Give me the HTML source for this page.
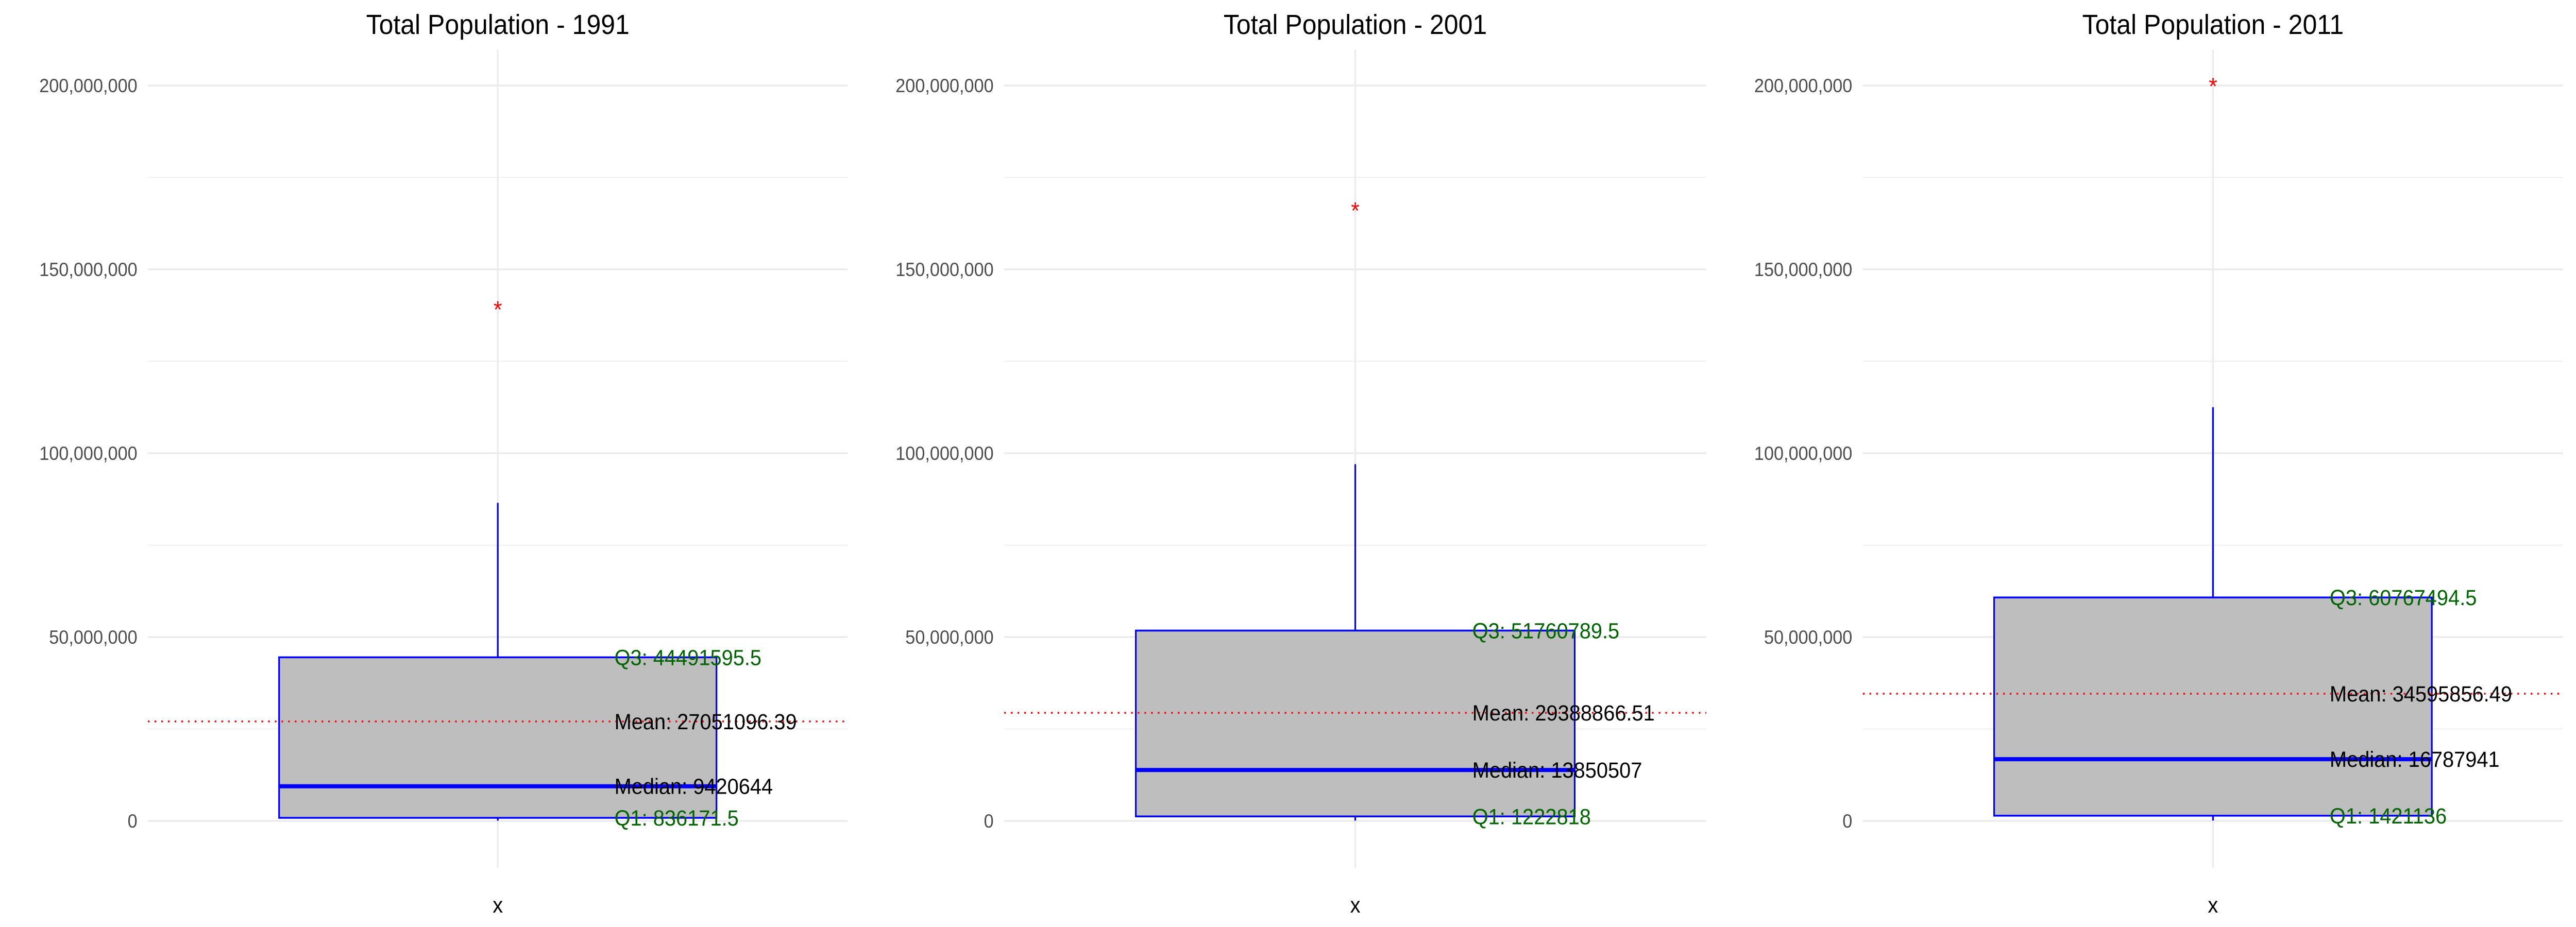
<!DOCTYPE html>
<html><head><meta charset="utf-8"><style>
html,body{margin:0;padding:0;background:#fff;overflow:hidden;width:100vw;height:100vh;}
svg{display:block;font-family:"Liberation Sans",Arial,sans-serif;width:100vw;height:100vh;}
</style></head>
<body>
<svg id="chart" viewBox="0 0 5400 1800" preserveAspectRatio="none" xmlns="http://www.w3.org/2000/svg"></svg>
<script>
const years = ["1991","2001","2011"];
const q1Values = [836171.5, 1222818, 1421136];
const medianValues = [9420644, 13850507, 16787941];
const q3Values = [44491595.5, 51760789.5, 60767494.5];
const meanValues = [27051096.39, 29388866.51, 34595856.49];
const whiskerLow = [60000, 80000, 100000];
const whiskerHigh = [86500000, 97000000, 112500000];
const outlierValues = [139100000, 166000000, 199800000];
const q1Labels = ["836171.5","1222818","1421136"];
const medianLabels = ["9420644","13850507","16787941"];
const q3Labels = ["44491595.5","51760789.5","60767494.5"];
const meanLabels = ["27051096.39","29388866.51","34595856.49"];
const yTicks = [0, 50000000, 100000000, 150000000, 200000000];
const yTickLabels = ["0","50,000,000","100,000,000","150,000,000","200,000,000"];
const yMinor = [25000000, 75000000, 125000000, 175000000];

const NS = "http://www.w3.org/2000/svg";
const svg = document.getElementById("chart");
function mk(tag, attrs, parent){const e=document.createElementNS(NS,tag);for(const k in attrs)e.setAttribute(k,attrs[k]);(parent||svg).appendChild(e);return e;}
const yScale = v => 1594 - v/50000000*357;
const plotTop = 96, plotBot = 1685;
const panelLeft = [310, 2105, 3905];
const panelRight = [1777, 3577, 5373];

years.forEach((yr,i)=>{
  const L = panelLeft[i], R = panelRight[i], cx = (L+R)/2;
  const xScale = u => cx + u*(R-L)/1.2;
  const g = mk("g",{});
  
  
  yMinor.forEach(v=>{const l=mk("line",{x1:L,x2:R,y1:yScale(v),y2:yScale(v),stroke:"#ebebeb","stroke-width":1.5},g);
    });
  yTicks.forEach((v,k)=>{
    const l=mk("line",{x1:L,x2:R,y1:yScale(v),y2:yScale(v),stroke:"#ebebeb","stroke-width":3.5},g);
    
    const t=mk("text",{x:L-22,y:yScale(v)+13,"text-anchor":"end","font-size":37,fill:"#4d4d4d"},g);
    t.textContent=yTickLabels[k];
    
  });
  const vg=mk("line",{x1:cx,x2:cx,y1:plotTop,y2:plotBot,stroke:"#ebebeb","stroke-width":3.5},g);
  
  const w1=mk("line",{x1:cx,x2:cx,y1:yScale(q3Values[i]),y2:yScale(whiskerHigh[i]),stroke:"#0000ff","stroke-width":3.5},g);
  
  const w2=mk("line",{x1:cx,x2:cx,y1:yScale(q1Values[i]),y2:yScale(whiskerLow[i]),stroke:"#0000ff","stroke-width":3.5},g);
  
  const bx=xScale(-0.375), bw=xScale(0.375)-bx;
  const b=mk("rect",{x:bx,y:yScale(q3Values[i]),width:bw,height:yScale(q1Values[i])-yScale(q3Values[i]),fill:"#bebebe",stroke:"#0000ff","stroke-width":3.5},g);
  
  const m=mk("line",{x1:bx,x2:bx+bw,y1:yScale(medianValues[i]),y2:yScale(medianValues[i]),stroke:"#0000ff","stroke-width":8},g);
  
  const ml=mk("line",{x1:L,x2:R,y1:yScale(meanValues[i]),y2:yScale(meanValues[i]),stroke:"#ff0000","stroke-width":3.5,"stroke-dasharray":"3.5 10.5"},g);
  
  const oy=yScale(outlierValues[i]);
  const o=mk("text",{x:cx,y:oy+16,"text-anchor":"middle","font-size":46,fill:"#ff0000"},g);
  o.textContent="*";
  
  const tx = xScale(0.2);
  const ann=[["Q3: "+q3Labels[i],q3Values[i],"#006400","q3-label"],["Mean: "+meanLabels[i],meanValues[i],"#000000","mean-label"],["Median: "+medianLabels[i],medianValues[i],"#000000","median-label"],["Q1: "+q1Labels[i],q1Values[i],"#006400","q1-label"]];
  ann.forEach(a=>{
    const t=mk("text",{x:tx,y:yScale(a[1])+15,"font-size":43,fill:a[2]},g);
    t.textContent=a[0];
    
  });
  const tt=mk("text",{x:cx,y:66,"text-anchor":"middle","font-size":54,fill:"#000"},g);
  tt.textContent="Total Population - "+yr;
  
  const xl=mk("text",{x:cx,y:1772,"text-anchor":"middle","font-size":43,fill:"#000"},g);
  xl.textContent="x";
  
});
</script>
</body></html>
